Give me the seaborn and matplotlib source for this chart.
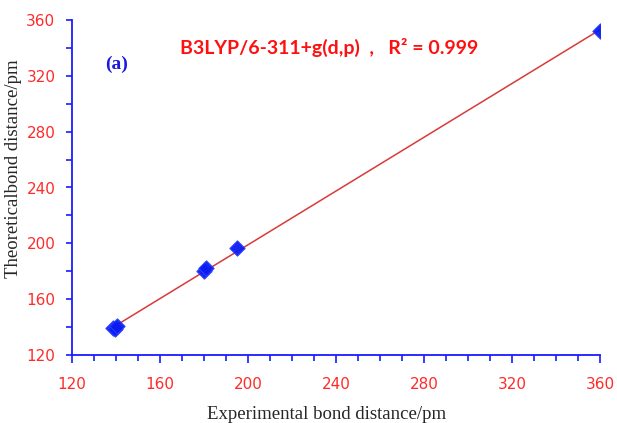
import matplotlib
matplotlib.use("Agg")
import matplotlib.pyplot as plt
import seaborn as sns
import numpy as np
import pandas as pd
from matplotlib.ticker import MultipleLocator

# Data
experimental = [138.5, 139.5, 140.5, 180.0, 181.0, 195.0, 360.0]
theoretical = [139.5, 138.5, 140.5, 180.0, 182.0, 197.0, 352.0]
x_ticks = [120, 160, 200, 240, 280, 320, 360]
y_ticks = [120, 160, 200, 240, 280, 320, 360]
title_text = "B3LYP/6-311+g(d,p)  ,   R\u00b2 = 0.999"
panel_text = "(a)"

df = pd.DataFrame({"exp": experimental, "theo": theoretical})

sns.set_style("white")
fig = plt.figure(figsize=(6.17, 4.23), dpi=100)
ax = fig.add_axes([72/617, 1-355/423, (600-72)/617, (355-20)/423])

sns.regplot(data=df, x="exp", y="theo", ax=ax, ci=None, marker="D",
            scatter_kws=dict(color="#0a1cf0", s=60, edgecolor="#2a3cff", linewidths=0.8, zorder=3, alpha=0.95),
            line_kws=dict(color="#d83a3a", lw=1.1, zorder=2))

ax.set_xlim(120, 360)
ax.set_ylim(120, 360)
ax.set_xticks(x_ticks)
ax.set_yticks(y_ticks)
ax.xaxis.set_minor_locator(MultipleLocator(10))
ax.yaxis.set_minor_locator(MultipleLocator(20))

for s in ["top", "right"]:
    ax.spines[s].set_visible(False)
for s in ["left", "bottom"]:
    ax.spines[s].set_color("#1a1aff")
    ax.spines[s].set_linewidth(1.3)

ax.tick_params(axis="both", which="both", direction="out", color="#1a1aff", width=1.2)
ax.tick_params(axis="x", which="major", length=6, pad=10, labelcolor="#ff2a2a", labelsize=11)
ax.tick_params(axis="x", which="minor", length=4)
ax.tick_params(axis="y", which="major", length=4, pad=8, labelcolor="#ff2a2a", labelsize=11)
ax.tick_params(axis="y", which="minor", length=4)
ax.tick_params(bottom=True, left=True, which="both")

ax.set_xlabel("")
ax.set_ylabel("")
fig.text(327/617, 1-419/423, "Experimental bond distance/pm", family="Liberation Serif",
         fontsize=13.5, ha="center", va="baseline")
fig.text(14/617, 1-168.5/423, "Theoreticalbond distance/pm", family="Liberation Serif",
         fontsize=13.5, ha="center", va="center", rotation=90)

ax.text(237, 340.5, title_text, color="#ff1010", fontsize=14, fontweight="bold",
        family="Lato", ha="center", va="center")
ax.text(140.2, 328, panel_text, color="#1a1adf", fontsize=14, fontweight="bold",
        family="Liberation Serif", ha="center", va="center")

fig.savefig("out.png", dpi=100)
